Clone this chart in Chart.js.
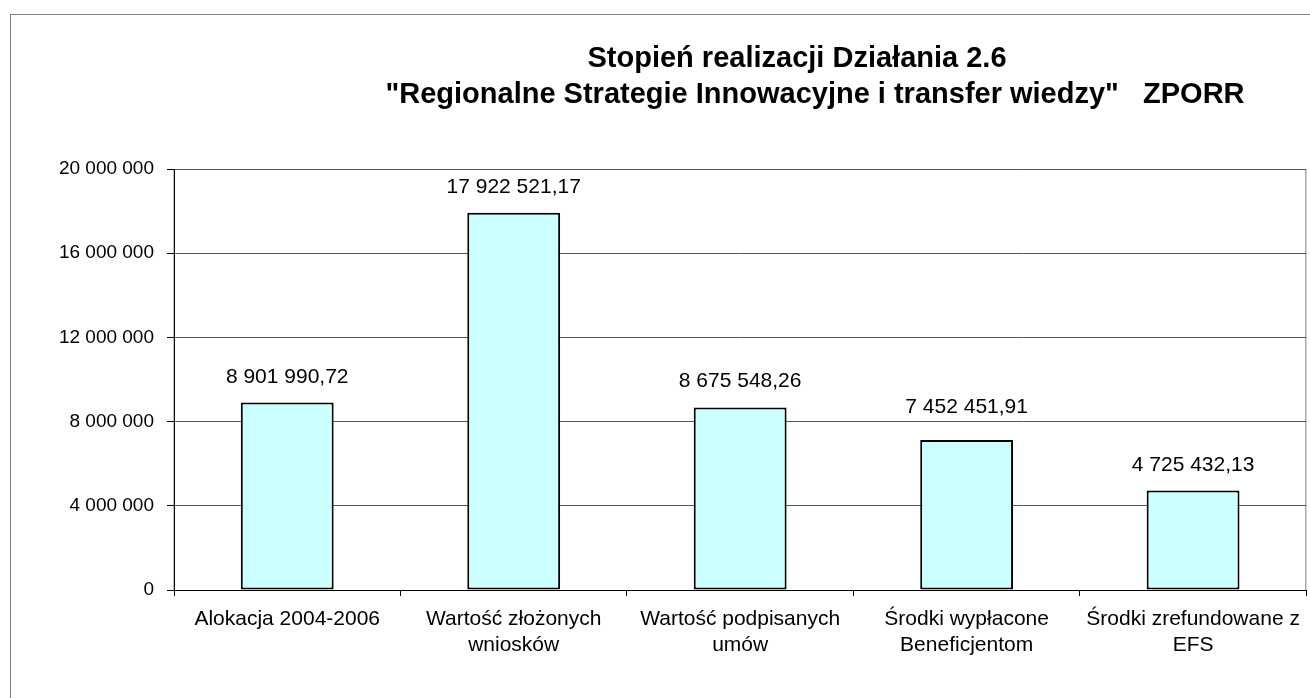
<!DOCTYPE html>
<html>
<head>
<meta charset="utf-8">
<title>Stopień realizacji Działania 2.6</title>
<script src="https://cdn.jsdelivr.net/npm/chart.js@4.4.0/dist/chart.umd.min.js"></script>
<style>
  html, body { margin: 0; padding: 0; background: #fff; }
  #wrap { width: 1310px; height: 698px; position: relative; }
</style>
</head>
<body>
<div id="wrap"><canvas id="realizacjaChart"></canvas></div>
<script>
let categories = [
  'Alokacja 2004-2006',
  ['Wartość złożonych', 'wniosków'],
  ['Wartość podpisanych', 'umów'],
  ['Środki wypłacone', 'Beneficjentom'],
  ['Środki zrefundowane z', 'EFS']
];
// numbers printed above the bars
let labelValues = [8901990.72, 17922521.17, 8675548.26, 7452451.91, 4725432.13];
// bar heights as drawn (the 4th bar is drawn lower than its label says)
let barValues = [8901990.72, 17922521.17, 8675548.26, 7130000, 4725432.13];
let yTicks = [0, 4000000, 8000000, 12000000, 16000000, 20000000];
let titleLines = ['Stopień realizacji Działania 2.6', '"Regionalne Strategie Innowacyjne i transfer wiedzy"   ZPORR'];

// 17922521.17 -> "17 922 521,17"
function fmtPl(v, decimals) {
  let parts = v.toFixed(decimals).split('.');
  let int = parts[0].replace(/\B(?=(\d{3})+(?!\d))/g, ' ');
  return parts[1] ? int + ',' + parts[1] : int;
}

const frame = {
  id: 'frame',
  beforeDraw(chart) {
    const ctx = chart.ctx;
    const a = chart.chartArea;
    ctx.save();
    ctx.strokeStyle = '#808080';
    ctx.lineWidth = 1;
    ctx.strokeRect(10.5, 14.5, 2000, 2000);
    ctx.strokeRect(a.left, a.top + 0.5, a.right - a.left - 0.5, a.bottom - a.top);
    ctx.restore();
  },
  afterDraw(chart) {
    const ctx = chart.ctx;
    ctx.save();
    ctx.fillStyle = '#000';
    ctx.font = 'bold 29px Arial, "Liberation Sans", sans-serif';
    ctx.textAlign = 'center';
    ctx.textBaseline = 'alphabetic';
    ctx.fillText(titleLines[0], 797, 67);
    ctx.fillText(titleLines[1], 815, 103);
    ctx.restore();
  }
};

const valueLabels = {
  id: 'valueLabels',
  afterDatasetsDraw(chart) {
    const ctx = chart.ctx;
    const meta = chart.getDatasetMeta(0);
    const y = chart.scales.y;
    ctx.save();
    ctx.fillStyle = '#000';
    ctx.font = '21px Arial, "Liberation Sans", sans-serif';
    ctx.textAlign = 'center';
    ctx.textBaseline = 'alphabetic';
    meta.data.forEach((bar, i) => {
      ctx.fillText(fmtPl(labelValues[i], 2), bar.x, y.getPixelForValue(labelValues[i]) - 20);
    });
    ctx.restore();
  }
};

let ctx = document.getElementById('realizacjaChart').getContext('2d');
let chart = new Chart(ctx, {
  type: 'bar',
  data: {
    labels: categories,
    datasets: [{
      data: barValues,
      backgroundColor: '#CCFFFF',
      borderColor: '#000',
      borderWidth: 2,
      borderSkipped: false,
      categoryPercentage: 1,
      barPercentage: 0.41
    }]
  },
  options: {
    responsive: true,
    maintainAspectRatio: false,
    animation: false,
    layout: { padding: { left: 0, top: 169, right: 1, bottom: 0 } },
    plugins: {
      legend: { display: false },
      title: { display: false },
      tooltip: { enabled: false }
    },
    scales: {
      x: {
        grid: { drawOnChartArea: false, drawTicks: true, tickLength: 6, tickColor: '#000', offset: true },
        border: { color: '#000', width: 1 },
        ticks: {
          color: '#000',
          font: { family: 'Arial, "Liberation Sans", sans-serif', size: 21, lineHeight: 1.24 },
          maxRotation: 0,
          autoSkip: false,
          padding: 10
        },
        afterFit: scale => { scale.height = 108; }
      },
      y: {
        min: 0,
        max: 20000000,
        afterBuildTicks: scale => { scale.ticks = yTicks.map(v => ({ value: v })); },
        grid: { color: '#555', tickColor: '#000', tickLength: 7, lineWidth: 1 },
        border: { color: '#000', width: 1 },
        ticks: {
          color: '#000',
          font: { family: 'Arial, "Liberation Sans", sans-serif', size: 19 },
          padding: 13,
          callback: v => fmtPl(v, 0)
        },
        afterFit: scale => { scale.width = 174; }
      }
    }
  },
  plugins: [frame, valueLabels]
});
</script>
</body>
</html>
